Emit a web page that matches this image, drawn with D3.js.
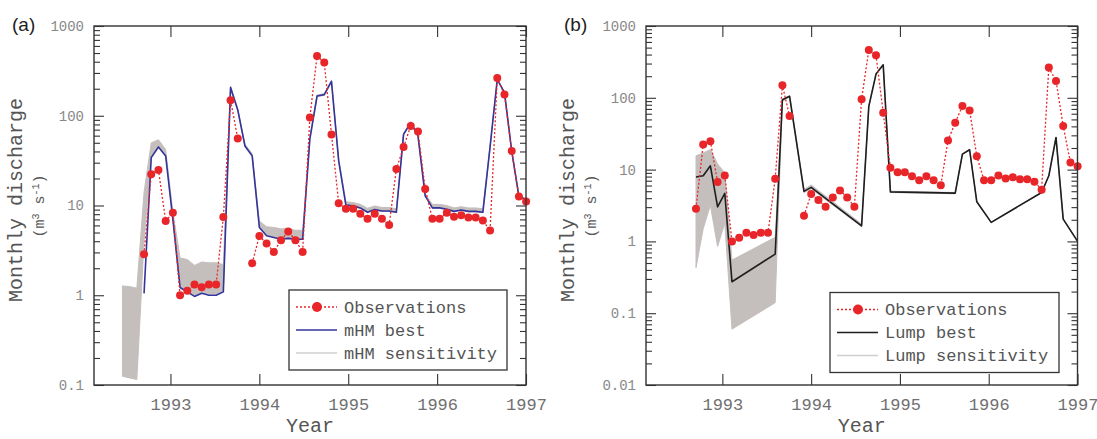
<!DOCTYPE html>
<html>
<head>
<meta charset="utf-8">
<script src="https://cdn.jsdelivr.net/npm/d3@7"></script>
<style>
  body { margin: 0; background: #fff; }
  svg { display: block; }
</style>
</head>
<body>
<div id="chart"></div>
<script>
// monthly discharge, 54 time slots from Sep 1992 to end of 1996
const T0 = 1992.703;
const STEP = 0.0811;
const years = [1993, 1994, 1995, 1996, 1997];

// observations (same in both panels), null = missing month
const observations = [2.86, 22.3, 24.9, 6.7, 8.3, 1.0, 1.12, 1.32, 1.23, 1.32, 1.32, 7.46, 149, 55.7, null,
  2.27, 4.58, 3.77, 3.04, 4.1, 5.13, 4.1, 3.04, 95.5, 464, 392, 62, 10.6, 9.2, 9.2, 8.1, 7.1, 8.1, 7.1, 6.07,
  25.5, 44.9, 77, 66.7, 15.3, 7.1, 7.1, 8.3, 7.5, 7.8, 7.35, 7.35, 6.8, 5.26, 264, 172, 40.5, 12.6, 11.1];

const mhmBest = [1.05, 34.2, 44.9, 35.7, 7.0, 1.22, 1.09, 0.97, 1.05, 1.0, 1.0, 1.09, 206, 116, 46, 35.7,
  5.7, 4.6, 4.4, 4.2, 4.3, 4.2, 4.2, 55, 166, 172, 242, 31.4, 10.1, 9.9, 9.4, 8.4, 9.0, 8.7, 8.7, 8.4,
  62, 84, 59.6, 12.8, 9.4, 9.4, 9.1, 8.6, 8.9, 8.6, 8.6, 8.4, 45, 255, 181, 40.5, 12.6, 11.7];

// mHM sensitivity runs: envelope, starts 3 slots before the observations
const mhmSensStart = -3;
const mhmSensHigh = [1.27, 1.25, 1.2, 14, 50, 54, 42, 8.5, 2.6, 2.5, 2.15, 2.35, 2.3, 2.3, 2.2, 215, 120, 48, 38,
  6.7, 5.8, 5.7, 5.5, 5.5, 5.3, 5.3, 57, 170, 176, 248, 33, 11, 10.8, 10.3, 9.3, 9.9, 9.5, 9.5, 9.2,
  64, 86, 61, 13.5, 10.3, 10.3, 10, 9.4, 9.7, 9.4, 9.4, 9.2, 46, 258, 183, 41, 12.8, 11.9];
const mhmSensLow = [0.125, 0.12, 0.115, 4, 36, 45, 36, 7, 1.25, 1.12, 1.0, 1.07, 1.03, 1.03, 1.1, 200, 113, 45, 35,
  5.7, 4.7, 4.5, 4.3, 4.3, 4.2, 4.2, 54, 163, 169, 238, 31, 10, 9.8, 9.3, 8.3, 8.9, 8.6, 8.6, 8.3,
  61, 83, 59, 12.7, 9.3, 9.3, 9, 8.5, 8.8, 8.5, 8.5, 8.3, 44, 252, 179, 40, 12.4, 11.5];

// lumped model, null = no value (line bridges them)
const lumpBest = [7.9, 8.2, 11.3, 3.03, 4.66, 0.274, null, null, null, null, null, 0.665, 93.8, 105, null,
  4.97, 5.65, null, null, null, null, null, null, 1.65, 76, 214, 288, 4.9, null, null, null, null, null,
  null, null, null, 4.7, 16.4, 18.9, 3.56, null, 1.84, null, null, null, null, null, null, 4.8, 8.2, 28,
  2.04, null, 1.0];
const lumpSensHigh = [15.6, 17, 19, 12, 9, 0.55, null, null, null, null, null, 1.14, 96, 107, null,
  5.3, 6.1, null, null, null, null, null, null, 1.75, 77, 216, 290, 5.0, null, null, null, null, null,
  null, null, null, 4.8, 16.6, 19.1, 3.6, null, 1.86, null, null, null, null, null, null, 4.85, 8.3, 28.3,
  2.06, null, 1.01];
const lumpSensLow = [0.43, 1.5, 3.2, 0.85, 1.8, 0.06, null, null, null, null, null, 0.14, 90, 102, null,
  4.8, 5.4, null, null, null, null, null, null, 1.6, 75, 212, 285, 4.8, null, null, null, null, null,
  null, null, null, 4.6, 16.2, 18.7, 3.5, null, 1.82, null, null, null, null, null, null, 4.75, 8.1, 27.7,
  2.02, null, 0.99];

const width = 1097;
const height = 439;
const mono = "'Liberation Mono', 'DejaVu Sans Mono', monospace";
const obsColor = "#e8262a";
const sensColor = "#c4bfbd";

const svg = d3.select("#chart")
  .append("svg")
    .attr("width", width)
    .attr("height", height)
    .style("background-color", "#fff")

const tOf = i => T0 + i * STEP;

function drawPanel(p) {
  const x = d3.scaleLinear().domain([1992.14, 1997]).range([p.left, p.right]);
  const y = d3.scaleLog().domain(p.yDomain).range([385, 26]);
  const g = svg.append("g");

  // sensitivity band
  const sens = p.sensHigh.map((hi, k) => ({ t: tOf(k + p.sensStart), hi, lo: p.sensLow[k] }))
    .filter(d => d.hi != null);
  g.append("path")
    .datum(sens)
    .attr("fill", sensColor)
    .attr("stroke", sensColor)
    .attr("stroke-width", 1)
    .attr("d", d3.area().x(d => x(d.t)).y0(d => y(d.lo)).y1(d => y(d.hi)));

  // best model run
  const best = p.best.map((v, i) => ({ t: tOf(i), v })).filter(d => d.v != null);
  g.append("path")
    .datum(best)
    .attr("fill", "none")
    .attr("stroke", p.bestColor)
    .attr("stroke-width", 1.6)
    .attr("stroke-linejoin", "round")
    .attr("d", d3.line().x(d => x(d.t)).y(d => y(d.v)));

  // observations
  const obs = observations.map((v, i) => ({ t: tOf(i), v }));
  g.append("path")
    .datum(obs)
    .attr("fill", "none")
    .attr("stroke", obsColor)
    .attr("stroke-width", 1.3)
    .attr("stroke-dasharray", "2,2")
    .attr("d", d3.line().defined(d => d.v != null).x(d => x(d.t)).y(d => y(d.v)));
  g.selectAll("circle.obs")
    .data(obs.filter(d => d.v != null))
    .join("circle")
      .attr("class", "obs")
      .attr("cx", d => x(d.t))
      .attr("cy", d => y(d.v))
      .attr("r", 4)
      .attr("fill", obsColor)

  // axes (ticks inward, frame drawn separately)
  const [lo, hi] = p.yDomain;
  const majors = [];
  const minors = [];
  for (let e = Math.log10(lo); e < Math.log10(hi) + 0.5; e++) {
    majors.push(Math.pow(10, e));
    if (Math.pow(10, e) < hi) for (let m = 2; m <= 9; m++) minors.push(m * Math.pow(10, e));
  }
  const fmt = d => d >= 1 ? d3.format("d")(d) : String(+d.toPrecision(1));

  const axisStyle = sel => {
    sel.select(".domain").remove();
    sel.selectAll("line").attr("stroke", "#333").attr("stroke-width", 1.1);
  };

  g.append("g").attr("transform", `translate(${p.left},0)`)
    .call(d3.axisLeft(y).tickValues(majors).tickFormat(fmt).tickSize(-10).tickPadding(10))
    .call(axisStyle)
    .call(s => s.selectAll("text").attr("font-family", mono).attr("font-size", 14).attr("fill", "#888"));
  g.append("g").attr("transform", `translate(${p.left},0)`)
    .call(d3.axisLeft(y).tickValues(minors).tickFormat("").tickSize(-6))
    .call(axisStyle);
  g.append("g").attr("transform", `translate(${p.right},0)`)
    .call(d3.axisRight(y).tickValues(majors).tickFormat("").tickSize(-10))
    .call(axisStyle);
  g.append("g").attr("transform", `translate(${p.right},0)`)
    .call(d3.axisRight(y).tickValues(minors).tickFormat("").tickSize(-6))
    .call(axisStyle);
  g.append("g").attr("transform", "translate(0,385)")
    .call(d3.axisBottom(x).tickValues(years).tickFormat(d3.format("d")).tickSize(-11).tickPadding(13))
    .call(axisStyle)
    .call(s => s.selectAll("text").attr("font-family", mono).attr("font-size", 17).attr("fill", "#707070"));
  g.append("g").attr("transform", "translate(0,26)")
    .call(d3.axisTop(x).tickValues(years).tickFormat("").tickSize(-11))
    .call(axisStyle);

  // frame
  g.append("rect")
    .attr("x", p.left).attr("y", 26)
    .attr("width", p.right - p.left).attr("height", 359)
    .attr("fill", "none").attr("stroke", "#333").attr("stroke-width", 1.4);

  // titles
  g.append("text")
    .attr("x", (p.left + p.right) / 2).attr("y", 432)
    .attr("text-anchor", "middle")
    .attr("font-family", mono).attr("font-size", 20).attr("fill", "#555")
    .text("Year");
  g.append("text")
    .attr("transform", `translate(${p.left - 72},200) rotate(-90)`)
    .attr("text-anchor", "middle")
    .attr("font-family", mono).attr("font-size", 20).attr("fill", "#555")
    .text("Monthly discharge");
  const unit = g.append("text")
    .attr("transform", `translate(${p.left - 50},206) rotate(-90)`)
    .attr("text-anchor", "middle")
    .attr("font-family", mono).attr("font-size", 15).attr("fill", "#555");
  unit.append("tspan").text("(m");
  unit.append("tspan").attr("baseline-shift", "super").attr("font-size", 10).text("3");
  unit.append("tspan").text(" s");
  unit.append("tspan").attr("baseline-shift", "super").attr("font-size", 10).text("-1");
  unit.append("tspan").text(")");

  g.append("text")
    .attr("x", p.left - 82).attr("y", 31)
    .attr("font-family", "'Liberation Sans', Arial, sans-serif").attr("font-size", 19).attr("fill", "#222")
    .text(p.label);

  // legend
  const L = p.legend;
  g.append("rect")
    .attr("x", L.x).attr("y", L.y).attr("width", L.w).attr("height", 80)
    .attr("fill", "#fff").attr("stroke", "#333").attr("stroke-width", 1.3);
  const rows = [
    { name: "Observations", color: obsColor, dash: "2,2", dot: true, w: 1.3 },
    { name: p.bestName, color: p.bestColor, dash: null, dot: false, w: 1.6 },
    { name: p.sensName, color: "#cfcfcf", dash: null, dot: false, w: 1.6 }
  ];
  rows.forEach((r, i) => {
    const cy = L.y + 17 + i * 23;
    g.append("line")
      .attr("x1", L.x + 7).attr("x2", L.x + 48).attr("y1", cy).attr("y2", cy)
      .attr("stroke", r.color).attr("stroke-width", r.w)
      .attr("stroke-dasharray", r.dash);
    if (r.dot) g.append("circle").attr("cx", L.x + 28).attr("cy", cy).attr("r", 5).attr("fill", r.color);
    g.append("text")
      .attr("x", L.x + 55).attr("y", cy).attr("dy", "0.35em")
      .attr("font-family", mono).attr("font-size", 17).attr("fill", "#555")
      .text(r.name);
  });
}

drawPanel({
  label: "(a)", left: 94, right: 526, yDomain: [0.1, 1000],
  best: mhmBest, bestColor: "#34349a", bestName: "mHM best",
  sensHigh: mhmSensHigh, sensLow: mhmSensLow, sensStart: mhmSensStart, sensName: "mHM sensitivity",
  legend: { x: 289, y: 290, w: 218 }
});
drawPanel({
  label: "(b)", left: 646, right: 1077.5, yDomain: [0.01, 1000],
  best: lumpBest, bestColor: "#1e1e1e", bestName: "Lump best",
  sensHigh: lumpSensHigh, sensLow: lumpSensLow, sensStart: 0, sensName: "Lump sensitivity",
  legend: { x: 830, y: 292.5, w: 229 }
});
</script>
</body>
</html>
